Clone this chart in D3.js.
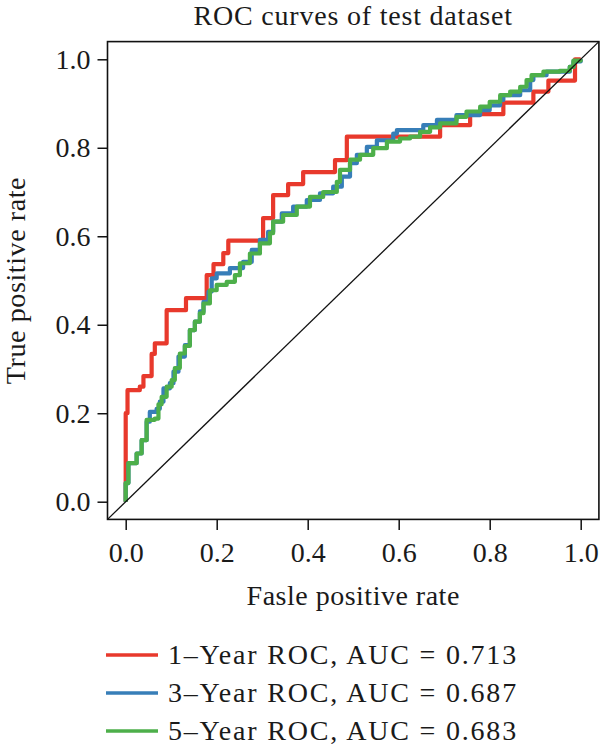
<!DOCTYPE html>
<html>
<head>
<meta charset="utf-8">
<script src="https://cdn.jsdelivr.net/npm/d3@7/dist/d3.min.js"></script>
<style>
  html, body { margin: 0; padding: 0; background: #fff; }
  svg { display: block; }
  text { font-family: "Liberation Serif", "Times New Roman", serif; fill: #1a1a1a; }
</style>
</head>
<body>
<svg id="chart" width="600" height="751"></svg>
<script>
// ---- data ----
const chartTitle = "ROC curves of test dataset";
const xLabel = "Fasle positive rate";
const yLabel = "True positive rate";
const tickValues = [0, 0.2, 0.4, 0.6, 0.8, 1.0];

const seriesNames = ["1\u2013Year ROC, AUC = 0.713", "3\u2013Year ROC, AUC = 0.687", "5\u2013Year ROC, AUC = 0.683"];
const seriesColors = ["#E8392C", "#377EB8", "#4DAF4A"];

const fpr1 = [0, 0, 0.004, 0.031, 0.039, 0.057, 0.064, 0.09, 0.1325, 0.178, 0.193, 0.2145, 0.2255, 0.302, 0.324, 0.357, 0.39, 0.46, 0.486, 0.691, 0.757, 0.83, 0.896, 0.929, 0.9875, 1];
const tpr1 = [0, 0.2, 0.252, 0.26, 0.284, 0.334, 0.358, 0.433, 0.46, 0.512, 0.537, 0.562, 0.59, 0.641, 0.693, 0.718, 0.745, 0.772, 0.825, 0.851, 0.876, 0.902, 0.927, 0.952, 1.0, 1.0];

const fpr3 = [0, 0, 0.006, 0.024, 0.035, 0.046, 0.053, 0.068, 0.075, 0.083, 0.097, 0.105, 0.116, 0.13, 0.141, 0.152, 0.163, 0.171, 0.182, 0.189, 0.2, 0.229, 0.258, 0.277, 0.295, 0.313, 0.324, 0.343, 0.368, 0.398, 0.427, 0.456, 0.475, 0.493, 0.508, 0.53, 0.552, 0.588, 0.596, 0.64, 0.654, 0.684, 0.727, 0.779, 0.80, 0.823, 0.83, 0.867, 0.889, 0.896, 0.925, 0.969, 0.976, 0.984, 1];
const tpr3 = [0, 0.042, 0.087, 0.109, 0.139, 0.181, 0.203, 0.21, 0.226, 0.256, 0.268, 0.294, 0.328, 0.354, 0.388, 0.407, 0.43, 0.452, 0.475, 0.505, 0.516, 0.528, 0.542, 0.569, 0.592, 0.61, 0.633, 0.652, 0.667, 0.682, 0.697, 0.712, 0.735, 0.765, 0.784, 0.802, 0.817, 0.832, 0.84, 0.84, 0.851, 0.863, 0.874, 0.885, 0.896, 0.908, 0.919, 0.93, 0.953, 0.964, 0.972, 0.972, 0.983, 0.995, 1];

const fpr5 = [0, 0, 0.006, 0.024, 0.035, 0.046, 0.064, 0.072, 0.079, 0.09, 0.101, 0.108, 0.119, 0.13, 0.141, 0.152, 0.163, 0.171, 0.185, 0.2, 0.222, 0.24, 0.251, 0.273, 0.295, 0.317, 0.324, 0.346, 0.376, 0.405, 0.434, 0.464, 0.471, 0.493, 0.515, 0.544, 0.574, 0.603, 0.625, 0.647, 0.669, 0.691, 0.727, 0.749, 0.779, 0.80, 0.823, 0.845, 0.867, 0.881, 0.892, 0.918, 0.954, 0.976, 0.984, 1];
const tpr5 = [0, 0.042, 0.087, 0.109, 0.139, 0.185, 0.188, 0.22, 0.237, 0.26, 0.275, 0.302, 0.335, 0.352, 0.388, 0.407, 0.426, 0.448, 0.478, 0.49, 0.497, 0.512, 0.539, 0.561, 0.584, 0.607, 0.633, 0.648, 0.667, 0.689, 0.7, 0.723, 0.75, 0.773, 0.784, 0.799, 0.814, 0.821, 0.825, 0.836, 0.846, 0.855, 0.87, 0.882, 0.893, 0.904, 0.919, 0.927, 0.938, 0.953, 0.964, 0.972, 0.974, 0.983, 0.997, 1];

// ---- layout ----
const svg = d3.select("#chart");
const frame = { left: 107.5, right: 598.9, top: 41.6, bottom: 519.4 };
const x = d3.scaleLinear().domain([-0.04, 1.04]).range([frame.left, frame.right]);
const y = d3.scaleLinear().domain([-0.04, 1.04]).range([frame.bottom, frame.top]);
const fs = 28;

// title
svg.append("text")
  .attr("x", (frame.left + frame.right) / 2).attr("y", 25)
  .attr("text-anchor", "middle").attr("font-size", fs).attr("letter-spacing", 0.8)
  .text(chartTitle);

// curves
const series = [
  { fpr: fpr1, tpr: tpr1 },
  { fpr: fpr3, tpr: tpr3 },
  { fpr: fpr5, tpr: tpr5 }
];
const line = d3.line().x(d => x(d[0])).y(d => y(d[1])).curve(d3.curveStepAfter);
const plot = svg.append("g");
series.forEach((s, i) => {
  const pts = s.fpr.map((f, j) => [f, s.tpr[j]]);
  plot.append("path")
    .attr("d", line(pts))
    .attr("fill", "none")
    .attr("stroke", seriesColors[i])
    .attr("stroke-width", 4.2)
    .attr("stroke-linejoin", "round")
    .attr("stroke-linecap", "butt");
});

// diagonal reference line
svg.append("line")
  .attr("x1", x(-0.04)).attr("y1", y(-0.04))
  .attr("x2", x(1.04)).attr("y2", y(1.04))
  .attr("stroke", "#111").attr("stroke-width", 1.3);

// frame
svg.append("rect")
  .attr("x", frame.left).attr("y", frame.top)
  .attr("width", frame.right - frame.left).attr("height", frame.bottom - frame.top)
  .attr("fill", "none").attr("stroke", "#111").attr("stroke-width", 1.6);

// axes
const fmt = d3.format(".1f");
const gx = svg.append("g").attr("transform", `translate(0,${frame.bottom})`)
  .call(d3.axisBottom(x).tickValues(tickValues).tickFormat(fmt).tickSize(10.5).tickPadding(12));
const gy = svg.append("g").attr("transform", `translate(${frame.left},0)`)
  .call(d3.axisLeft(y).tickValues(tickValues).tickFormat(fmt).tickSize(10).tickPadding(7));
[gx, gy].forEach(g => {
  g.select(".domain").remove();
  g.selectAll(".tick line").attr("stroke", "#111").attr("stroke-width", 1.5);
  g.selectAll(".tick text").attr("font-size", fs).attr("font-family", "Liberation Serif, serif").attr("fill", "#1a1a1a");
});

// axis titles
svg.append("text")
  .attr("x", (frame.left + frame.right) / 2).attr("y", 605)
  .attr("text-anchor", "middle").attr("font-size", fs).attr("letter-spacing", 0.5)
  .text(xLabel);
svg.append("text")
  .attr("transform", `translate(25,${(frame.top + frame.bottom) / 2}) rotate(-90)`)
  .attr("text-anchor", "middle").attr("font-size", fs).attr("letter-spacing", 0.6)
  .text(yLabel);

// legend
const legendY = [655, 693, 731];
const legend = svg.append("g");
seriesNames.forEach((name, i) => {
  legend.append("line")
    .attr("x1", 106).attr("x2", 158)
    .attr("y1", legendY[i]).attr("y2", legendY[i])
    .attr("stroke", seriesColors[i]).attr("stroke-width", 3.5);
  legend.append("text")
    .attr("x", 168).attr("y", legendY[i] + 9)
    .attr("font-size", fs).attr("letter-spacing", 1.8)
    .text(name);
});
</script>
</body>
</html>
